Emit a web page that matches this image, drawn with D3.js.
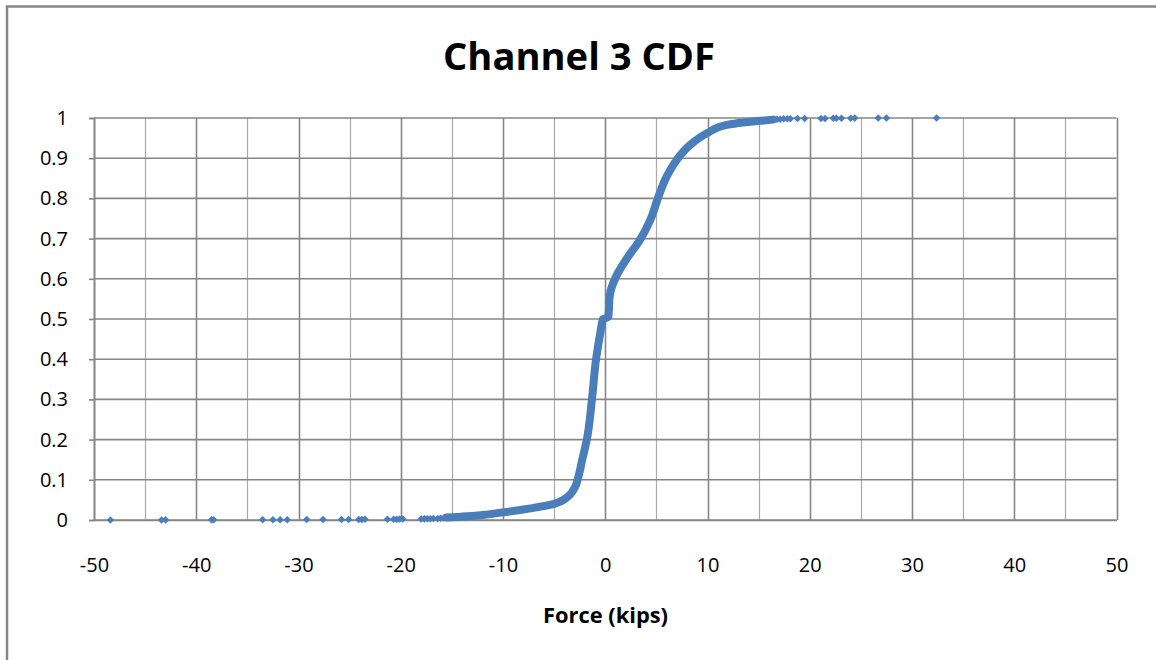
<!DOCTYPE html>
<html>
<head>
<meta charset="utf-8">
<script src="https://cdn.jsdelivr.net/npm/d3@7"></script>
<style>
  body { margin: 0; background: #fff; }
  .axis text { font-family: "Open Sans", sans-serif; font-size: 20px; fill: #000; }
  .axis path, .axis line { stroke: #868686; }
</style>
</head>
<body>
<div id="chart"></div>
<script>
// Chart texts
const chartTitle = "Channel 3 CDF";
const xTitle = "Force (kips)";

// Axis ticks
const xTicks = [-50, -40, -30, -20, -10, 0, 10, 20, 30, 40, 50];
const xGrid = d3.range(-50, 51, 5);
const yTicks = [0, 0.1, 0.2, 0.3, 0.4, 0.5, 0.6, 0.7, 0.8, 0.9, 1];

// Sparse points on the low tail [force, cumulative prob]
const lowTail = [
  [-48.4, 0.0001], [-43.4, 0.0002], [-43.0, 0.0003], [-38.5, 0.0004], [-38.3, 0.0005],
  [-33.5, 0.0006], [-32.5, 0.0007], [-31.8, 0.0008], [-31.1, 0.0009], [-29.2, 0.001],
  [-27.6, 0.0011], [-25.8, 0.0012], [-25.1, 0.0013], [-24.1, 0.0014], [-23.8, 0.0015],
  [-23.5, 0.0016], [-21.3, 0.0018], [-20.7, 0.002], [-20.4, 0.0021], [-20.1, 0.0022],
  [-19.8, 0.0023], [-18.0, 0.0026], [-17.7, 0.0028], [-17.4, 0.003], [-17.1, 0.0032],
  [-16.8, 0.0035], [-16.4, 0.0038], [-16.1, 0.0042], [-15.8, 0.005]
];

// Dense body of the CDF [force, cumulative prob]
const body = [
  [-15.5, 0.006], [-12.2, 0.012], [-10.0, 0.019], [-7.3, 0.029], [-5.0, 0.04],
  [-4.4, 0.046], [-3.75, 0.056], [-2.9, 0.085], [-2.6, 0.11], [-2.25, 0.15],
  [-1.8, 0.2], [-1.3, 0.3], [-0.9, 0.4], [-0.45, 0.47],
  [-0.22, 0.5], [0.3, 0.505], [0.45, 0.56], [1.05, 0.605], [2.1, 0.65],
  [3.4, 0.697], [4.4, 0.746], [5.2, 0.804], [6.0, 0.854], [7.0, 0.896],
  [8.3, 0.933], [9.95, 0.962], [11.9, 0.983], [13.5, 0.989], [15.2, 0.993], [16.4, 0.996]
];

// Sparse points on the high tail [force, cumulative prob]
const highTail = [
  [16.8, 0.997], [17.1, 0.997], [17.45, 0.998], [17.8, 0.998], [18.1, 0.998],
  [18.8, 0.999], [19.5, 0.999], [21.1, 0.999], [21.5, 0.999], [22.3, 0.9993],
  [22.6, 0.9994], [23.1, 0.9995], [24.0, 0.9996], [24.4, 0.9997], [26.7, 0.9998],
  [27.5, 0.9999], [32.4, 1.0]
];

const W = 1156, H = 660;
const plot = { left: 94, right: 1116.5, top: 118, bottom: 520 };
const blue = "#4a7ebb";

const svg = d3.select("#chart").append("svg")
    .attr("width", W)
    .attr("height", H);

// chart area border (open on right/bottom as in the picture)
svg.append("rect")
    .attr("x", 7).attr("y", 6.5)
    .attr("width", W + 20).attr("height", H + 20)
    .attr("fill", "#fff")
    .attr("stroke", "#878787")
    .attr("stroke-width", 2.5);

const x = d3.scaleLinear().domain([-50, 50]).range([plot.left, plot.right]);
const y = d3.scaleLinear().domain([0, 1]).range([plot.bottom, plot.top]);

// gridlines
svg.append("g").selectAll("line").data(xGrid).join("line")
    .attr("x1", d => Math.round(x(d)) + 0.5).attr("x2", d => Math.round(x(d)) + 0.5)
    .attr("y1", plot.top).attr("y2", plot.bottom)
    .attr("stroke", d => d % 10 === 0 ? "#868686" : "#aaaaaa")
    .attr("stroke-width", d => d % 10 === 0 ? 1.6 : 1.2);

svg.append("g").selectAll("line").data(yTicks).join("line")
    .attr("x1", plot.left).attr("x2", plot.right)
    .attr("y1", d => y(d)).attr("y2", d => y(d))
    .attr("stroke", "#868686")
    .attr("stroke-width", 1.6);

// y axis
const yAxis = svg.append("g")
    .attr("class", "axis")
    .attr("transform", `translate(${plot.left},0)`)
    .call(d3.axisLeft(y).tickValues(yTicks).tickFormat(d => String(d)).tickSize(5).tickPadding(21));
yAxis.select(".domain").attr("stroke-width", 1.6);
yAxis.selectAll(".tick line").attr("stroke-width", 1.6);

// x axis (plain hyphen for negatives, like the original)
const xAxis = svg.append("g")
    .attr("class", "axis")
    .attr("transform", `translate(0,${plot.bottom})`)
    .call(d3.axisBottom(x).tickValues(xTicks).tickFormat(d => String(d)).tickSize(0).tickPadding(38));
xAxis.select(".domain").attr("stroke-width", 1.6);

// dense part of the CDF
const line = d3.line()
    .x(d => x(d[0]))
    .y(d => y(d[1]))
    .curve(d3.curveMonotoneY);

svg.append("path")
    .datum(body)
    .attr("d", line)
    .attr("fill", "none")
    .attr("stroke", blue)
    .attr("stroke-width", 8)
    .attr("stroke-linejoin", "round")
    .attr("stroke-linecap", "round");

// sparse markers
const marker = d3.symbol().type(d3.symbolDiamond2).size(36);
svg.append("g").selectAll("path").data(lowTail.concat(highTail)).join("path")
    .attr("transform", d => `translate(${x(d[0])},${y(d[1])})`)
    .attr("d", marker)
    .attr("fill", blue);

// titles
svg.append("text")
    .attr("x", 579).attr("y", 70)
    .attr("text-anchor", "middle")
    .style("font-family", "'Open Sans', sans-serif")
    .style("font-weight", "bold")
    .style("font-size", "37px")
    .attr("textLength", 272)
    .attr("lengthAdjust", "spacingAndGlyphs")
    .text(chartTitle);

svg.append("text")
    .attr("x", 605.5).attr("y", 623)
    .attr("text-anchor", "middle")
    .style("font-family", "'Open Sans', sans-serif")
    .style("font-weight", "bold")
    .style("font-size", "21px")
    .attr("textLength", 125)
    .attr("lengthAdjust", "spacingAndGlyphs")
    .text(xTitle);
</script>
</body>
</html>
